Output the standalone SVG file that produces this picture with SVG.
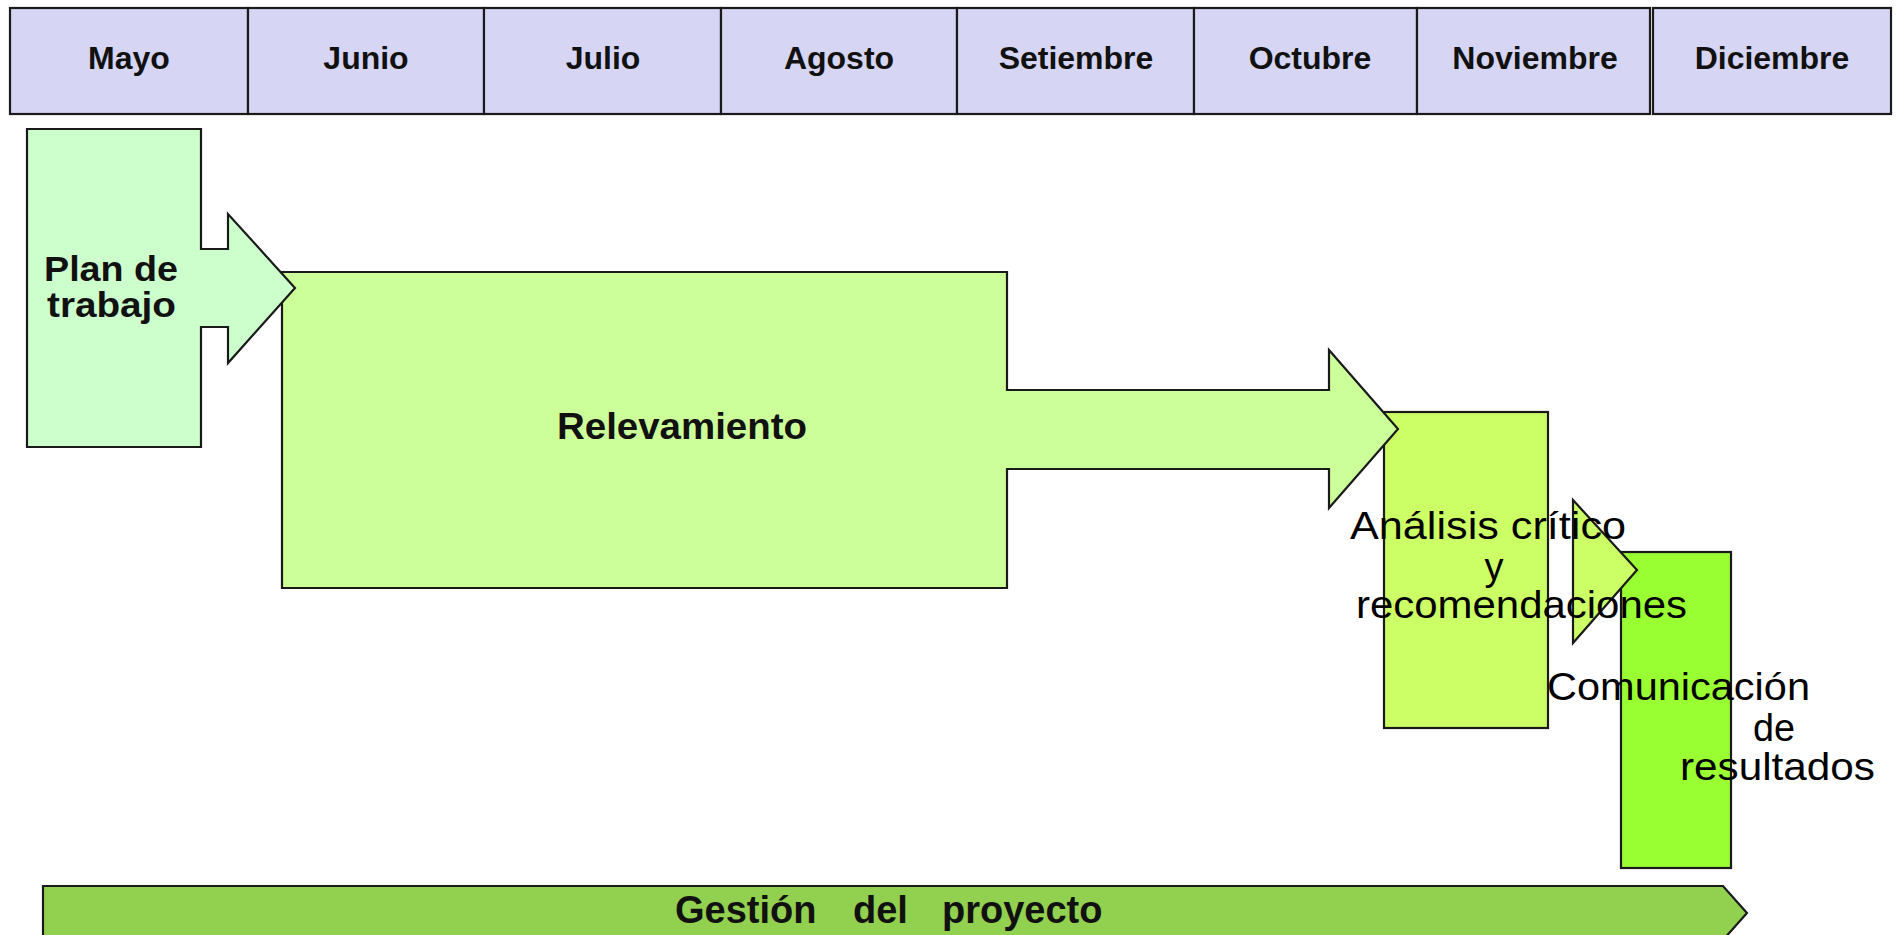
<svg xmlns="http://www.w3.org/2000/svg" width="1897" height="935" viewBox="0 0 1897 935">
<style>
.shape{stroke:#1a1a1a;stroke-width:2.2;stroke-linejoin:miter}
.hdr{fill:#d6d6f4}
.ht{font-family:"Liberation Sans",Arial,sans-serif;font-weight:bold;font-size:32px;fill:#111;text-anchor:middle}
.bt{font-family:"Liberation Sans",Arial,sans-serif;font-weight:bold;fill:#111}
.rt{font-family:"Liberation Sans",Arial,sans-serif;font-weight:normal;font-size:38px;fill:#000}
</style>
<rect width="1897" height="935" fill="#ffffff"/>

<g id="gestion">
<polygon class="shape" fill="#92d050" points="43,886 1723,886 1747,913 1723,940 43,940"/>
<text class="bt" font-size="38" y="923"><tspan x="675">Gestión</tspan><tspan x="853">del</tspan><tspan x="942">proyecto</tspan></text>
</g>

<g id="comunicacion">
<rect class="shape" fill="#99ff33" x="1621" y="552" width="110" height="316"/>
<text class="rt" x="1547" y="700" textLength="263" lengthAdjust="spacingAndGlyphs">Comunicación</text>
<text class="rt" x="1753" y="741" textLength="42" lengthAdjust="spacingAndGlyphs">de</text>
<text class="rt" x="1680" y="780" textLength="195" lengthAdjust="spacingAndGlyphs">resultados</text>
</g>

<g id="analisis">
<rect class="shape" fill="#ccff66" x="1384" y="412" width="164" height="316"/>
<polygon class="shape" fill="#ccff66" points="1573,500 1637,570 1573,643"/>
<text class="rt" x="1350" y="539" textLength="276" lengthAdjust="spacingAndGlyphs">Análisis crítico</text>
<text class="rt" x="1494" y="580" text-anchor="middle">y</text>
<text class="rt" x="1356" y="618" textLength="331" lengthAdjust="spacingAndGlyphs">recomendaciones</text>
</g>

<g id="relevamiento">
<path class="shape" fill="#ccff99" d="M282,272 L1007,272 L1007,390 L1329,390 L1329,350 L1398,429 L1329,508 L1329,469 L1007,469 L1007,588 L282,588 Z"/>
<text class="bt" font-size="36" x="557" y="439" textLength="250" lengthAdjust="spacingAndGlyphs">Relevamiento</text>
</g>

<g id="plan">
<path class="shape" fill="#ccffcc" d="M27,129 L201,129 L201,249 L228,249 L228,214 L295,288 L228,363 L228,327 L201,327 L201,447 L27,447 Z"/>
<text class="bt" font-size="35" x="44" y="281" textLength="134" lengthAdjust="spacingAndGlyphs">Plan de</text>
<text class="bt" font-size="35" x="47" y="317" textLength="129" lengthAdjust="spacingAndGlyphs">trabajo</text>
</g>

<g id="header">
<g id="mayo"><rect class="shape hdr" x="10" y="8" width="238" height="106"/><text class="ht" x="129" y="69">Mayo</text></g>
<g id="junio"><rect class="shape hdr" x="248" y="8" width="236" height="106"/><text class="ht" x="366" y="69">Junio</text></g>
<g id="julio"><rect class="shape hdr" x="484" y="8" width="237" height="106"/><text class="ht" x="603" y="69">Julio</text></g>
<g id="agosto"><rect class="shape hdr" x="721" y="8" width="236" height="106"/><text class="ht" x="839" y="69">Agosto</text></g>
<g id="setiembre"><rect class="shape hdr" x="957" y="8" width="237" height="106"/><text class="ht" x="1076" y="69">Setiembre</text></g>
<g id="octubre"><rect class="shape hdr" x="1194" y="8" width="223" height="106"/><text class="ht" x="1310" y="69">Octubre</text></g>
<g id="noviembre"><rect class="shape hdr" x="1417" y="8" width="233" height="106"/><text class="ht" x="1535" y="69">Noviembre</text></g>
<g id="diciembre"><rect class="shape hdr" x="1653" y="8" width="238" height="106"/><text class="ht" x="1772" y="69">Diciembre</text></g>
</g>
</svg>
